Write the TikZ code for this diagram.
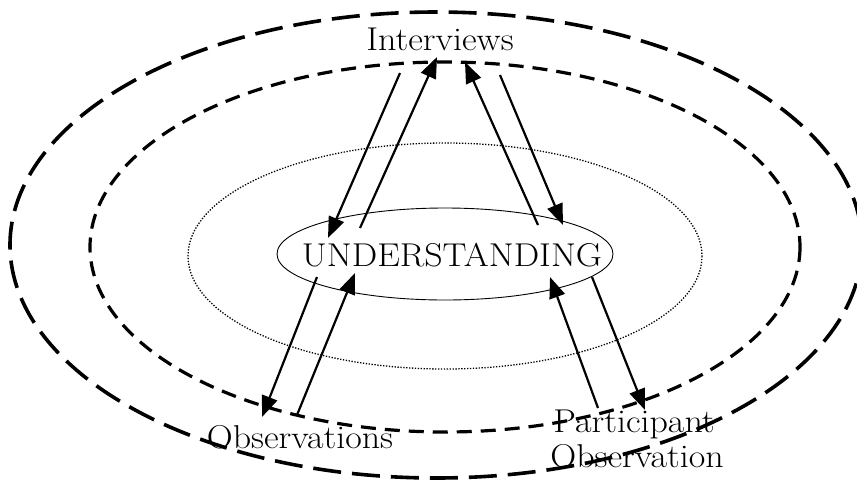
\documentclass[tikz,border=0pt]{standalone}
\usepackage{fontspec}
\setmainfont{Latin Modern Roman}[FakeStretch=1.09]
\usetikzlibrary{arrows.meta,shapes.geometric}
\begin{document}
\begin{tikzpicture}[x=1pt,y=-1pt,
  lbl/.style={font=\fontsize{33}{36}\selectfont, inner sep=0pt},
  outerring/.style={line width=3.6pt, dash pattern=on 28pt off 11pt},
  midring/.style={line width=3.2pt, dash pattern=on 15pt off 9pt},
  dotring/.style={line width=1.3pt, dash pattern=on 1.3pt off 1.6pt},
  link/.style={line width=2.2pt, -{Triangle[length=21pt,width=16pt]}}]
\useasboundingbox (0,0) rectangle (857,480);
% rings
\draw[outerring] (436,245) ellipse [x radius=426, y radius=233];
\draw[midring] (445,247) ellipse [x radius=355, y radius=185];
\draw[dotring] (445,256) ellipse [x radius=257, y radius=113];
% nodes
\node[ellipse, draw, line width=0.9pt, minimum width=336pt, minimum height=92pt,
      inner sep=0pt] (und) at (445,254) {};
\node[lbl, anchor=base] (undtxt) at (452,266) {UNDERSTANDING};
\node[lbl, anchor=base] (int) at (440,50) {Interviews};
\node[lbl, anchor=base] (obs) at (300,448) {Observations};
\node[lbl, anchor=base] (part) at (634,432) {Participant};
\node[lbl, anchor=base] (pobs) at (637,467) {Observation};
% connector end points
\coordinate (a1s) at (400,73);  \coordinate (a1e) at (328,238);
\coordinate (a2s) at (360,228); \coordinate (a2e) at (437,57);
\coordinate (a3s) at (538,225); \coordinate (a3e) at (465,62);
\coordinate (a4s) at (500,75);  \coordinate (a4e) at (563,225);
\coordinate (b1s) at (317,277); \coordinate (b1e) at (262,417);
\coordinate (b2s) at (297,415); \coordinate (b2e) at (355,273);
\coordinate (b3s) at (598,408); \coordinate (b3e) at (550,277);
\coordinate (b4s) at (592,277); \coordinate (b4e) at (645,410);
% connectors
\draw[link] (a1s) -- (a1e);
\draw[link] (a2s) -- (a2e);
\draw[link] (a3s) -- (a3e);
\draw[link] (a4s) -- (a4e);
\draw[link] (b1s) -- (b1e);
\draw[link] (b2s) -- (b2e);
\draw[link] (b3s) -- (b3e);
\draw[link] (b4s) -- (b4e);
\end{tikzpicture}
\end{document}
